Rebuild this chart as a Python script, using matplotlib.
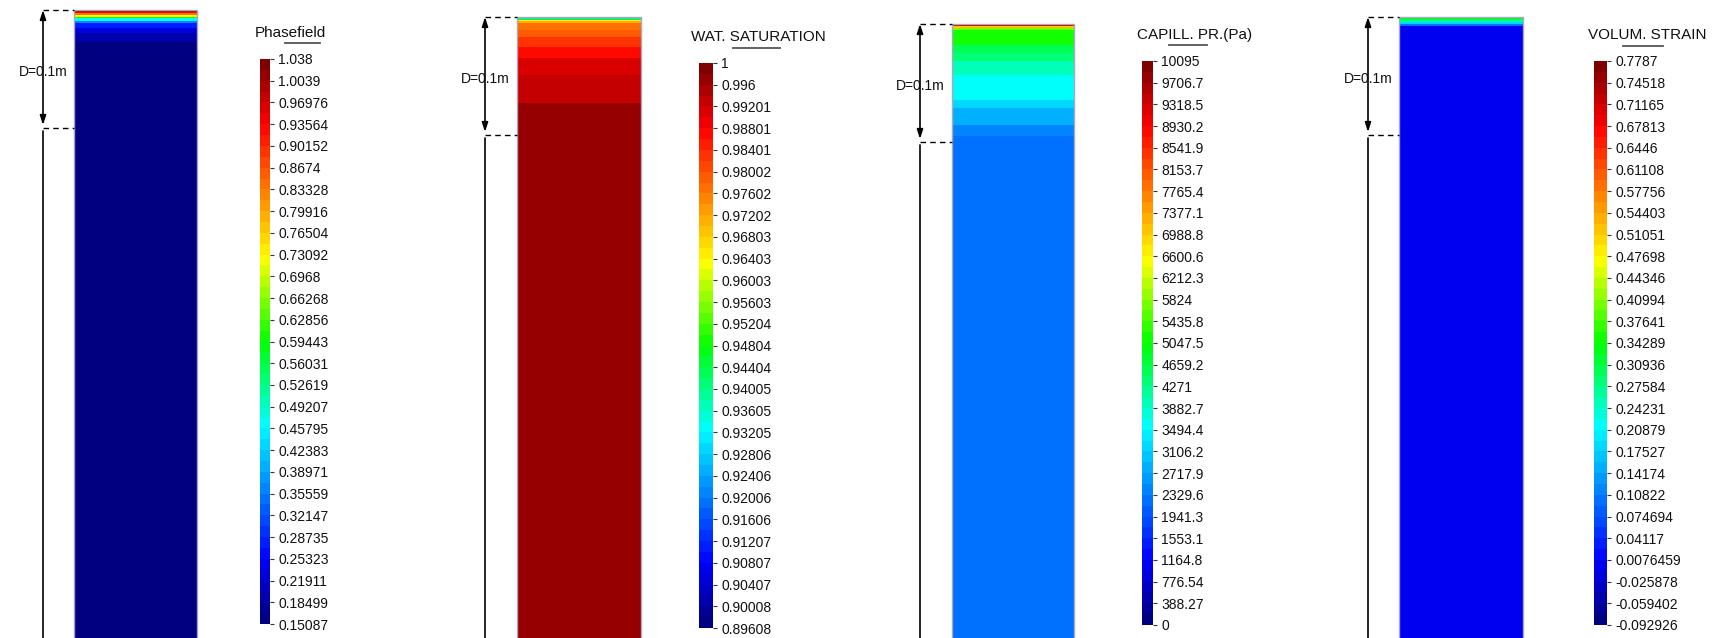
import numpy as np
import matplotlib
matplotlib.use("Agg")
import matplotlib.pyplot as plt
from matplotlib.colors import LinearSegmentedColormap, BoundaryNorm
from matplotlib.lines import Line2D
from matplotlib.patches import Rectangle
from matplotlib.ticker import NullLocator, FixedLocator, FixedFormatter

plt.rcParams['font.family'] = ['Liberation Sans', 'DejaVu Sans']

# ---------------- data ----------------
D_LABEL = "D=0.1m"
D_VALUE = 0.1  # m

titles = ["Phasefield", "WAT. SATURATION", "CAPILL. PR.(Pa)", "VOLUM. STRAIN"]

phase_labels = ["1.038", "1.0039", "0.96976", "0.93564", "0.90152", "0.8674", "0.83328",
                "0.79916", "0.76504", "0.73092", "0.6968", "0.66268", "0.62856", "0.59443",
                "0.56031", "0.52619", "0.49207", "0.45795", "0.42383", "0.38971", "0.35559",
                "0.32147", "0.28735", "0.25323", "0.21911", "0.18499", "0.15087"]
sat_labels = ["1", "0.996", "0.99201", "0.98801", "0.98401", "0.98002", "0.97602", "0.97202",
              "0.96803", "0.96403", "0.96003", "0.95603", "0.95204", "0.94804", "0.94404",
              "0.94005", "0.93605", "0.93205", "0.92806", "0.92406", "0.92006", "0.91606",
              "0.91207", "0.90807", "0.90407", "0.90008", "0.89608"]
cap_labels = ["10095", "9706.7", "9318.5", "8930.2", "8541.9", "8153.7", "7765.4", "7377.1",
              "6988.8", "6600.6", "6212.3", "5824", "5435.8", "5047.5", "4659.2", "4271",
              "3882.7", "3494.4", "3106.2", "2717.9", "2329.6", "1941.3", "1553.1", "1164.8",
              "776.54", "388.27", "0"]
vol_labels = ["0.7787", "0.74518", "0.71165", "0.67813", "0.6446", "0.61108", "0.57756",
              "0.54403", "0.51051", "0.47698", "0.44346", "0.40994", "0.37641", "0.34289",
              "0.30936", "0.27584", "0.24231", "0.20879", "0.17527", "0.14174", "0.10822",
              "0.074694", "0.04117", "0.0076459", "-0.025878", "-0.059402", "-0.092926"]

# vertical profiles: band edges (depth from top, m) and band values
phase_depth = [0, 0.0017, 0.0028, 0.0042, 0.0057, 0.0070, 0.0091, 0.0113, 0.0155, 0.0197, 0.0269, 0.60]
phase_value = [1.0, 0.93, 0.85, 0.73, 0.60, 0.47, 0.37, 0.28, 0.22, 0.19, 0.155]

sat_depth = [0, 0.0011, 0.0019, 0.0028, 0.0038, 0.0051, 0.0110, 0.0169, 0.0254, 0.0347, 0.0492, 0.0729, 0.60]
sat_value = [0.905, 0.93, 0.95, 0.965, 0.972, 0.977, 0.980, 0.984, 0.9875, 0.9905, 0.993, 0.998]

cap_depth = [0, 0.0014, 0.0034, 0.0048, 0.0175, 0.0246, 0.0314, 0.0430, 0.0642, 0.0712, 0.0853, 0.0952, 0.60]
cap_value = [9500, 7000, 5800, 5050, 4600, 4300, 3950, 3550, 3150, 2750, 2450, 2150]

vol_depth = [0, 0.0028, 0.0042, 0.0062, 0.0079, 0.60]
vol_value = [0.32, 0.26, 0.18, 0.10, 0.0]

# ---------------- style / layout ----------------
W, H = 1714, 638
MPP = 0.1 / 118.0  # metres per pixel
N_BANDS = 52

cmap = LinearSegmentedColormap.from_list(
    "gid", [(0.0, "#000080"), (0.11, "#0000ff"), (0.35, "#00ffff"), (0.5, "#00ff00"),
            (0.65, "#ffff00"), (0.89, "#ff0000"), (1.0, "#800000")])

panels = [
    dict(col=(74, 197, 10), dim_x=43, cbar=(260, 59, 270, 624), title=(255, 33), uline=(285, 320, 43),
         labels=phase_labels, depth=phase_depth, value=phase_value, title_txt=titles[0]),
    dict(col=(517, 641, 17), dim_x=485, cbar=(699, 63, 713, 628), title=(691, 37), uline=(733, 780, 48),
         labels=sat_labels, depth=sat_depth, value=sat_value, title_txt=titles[1]),
    dict(col=(952, 1074, 24), dim_x=920, cbar=(1142, 61, 1153, 625), title=(1137, 35), uline=(1169, 1207, 45),
         labels=cap_labels, depth=cap_depth, value=cap_value, title_txt=titles[2]),
    dict(col=(1399, 1523, 17), dim_x=1368, cbar=(1594, 61, 1607, 625), title=(1588, 35), uline=(1623, 1663, 46),
         labels=vol_labels, depth=vol_depth, value=vol_value, title_txt=titles[3]),
]

fig = plt.figure(figsize=(W / 100, H / 100), dpi=100)
fig.patch.set_facecolor("white")

for p in panels:
    cl, cr, ct = p["col"]
    dx = p["dim_x"]
    left_px, right_px = dx - 45, cr + 3
    ax = fig.add_axes([left_px / W, 0, (right_px - left_px) / W, (H - ct + 8) / H])
    ax.set_xlim((left_px - cl) * MPP, (right_px - cl) * MPP)
    ax.set_ylim((H - ct) * MPP, -8 * MPP)
    ax.axis("off")

    vals = [float(s) for s in p["labels"]]
    vmin, vmax = min(vals), max(vals)
    levels = np.linspace(vmin, vmax, N_BANDS + 1)
    norm = BoundaryNorm(levels, cmap.N, clip=True)

    col_w = (cr - cl) * MPP
    depth = np.array(p["depth"])
    value = np.array(p["value"])[:, None]
    ax.pcolormesh([0, col_w], depth, value, cmap=cmap, norm=norm, shading="flat")
    ax.add_patch(Rectangle((0, 0), col_w, depth[-1], fill=False, ec="#a8a8c0", lw=1.0))

    xd = (dx - cl) * MPP
    # dashed extension lines
    for yy in (0, D_VALUE):
        ax.plot([xd, 0], [yy, yy], color="black", lw=1.0, ls=(0, (4, 3)), clip_on=False)
    # dimension arrow
    arr = dict(arrowstyle="<|-|>,head_length=0.55,head_width=0.18", color="black", lw=1.2,
               shrinkA=0, shrinkB=0)
    ax.annotate("", xy=(xd, 0), xytext=(xd, D_VALUE - 3 * MPP), arrowprops=arr)
    arr2 = dict(arrowstyle="<|-,head_length=0.55,head_width=0.18", color="black", lw=1.2,
                shrinkA=0, shrinkB=0)
    ax.annotate("", xy=(xd, D_VALUE + 3 * MPP), xytext=(xd, depth[-1]), arrowprops=arr2)
    ax.annotate(D_LABEL, xy=(xd, D_VALUE / 2), xytext=(0, -3), textcoords="offset pixels",
                ha="center", va="center", fontsize=10, color="#111111")

    # colour legend (banded)
    x0, y0, x1, y1 = p["cbar"]
    cax = fig.add_axes([x0 / W, 1 - y1 / H, (x1 - x0) / W, (y1 - y0) / H])
    mids = 0.5 * (levels[:-1] + levels[1:])
    cax.pcolormesh([0, 1], levels, mids[:, None], cmap=cmap, norm=norm, shading="flat")
    cax.set_xlim(0, 1)
    cax.set_ylim(vmin, vmax)
    for s in cax.spines.values():
        s.set_visible(False)
    cax.xaxis.set_major_locator(NullLocator())
    cax.yaxis.tick_right()
    cax.yaxis.set_major_locator(FixedLocator(vals))
    cax.yaxis.set_major_formatter(FixedFormatter(p["labels"]))
    cax.yaxis.set_minor_locator(NullLocator())
    cax.tick_params(axis="y", which="major", length=3, width=0.8, pad=3, labelsize=10,
                    color="#333333", labelcolor="#111111", left=False, right=True)

    tx, ty = p["title"]
    fig.text(tx / W, 1 - ty / H, p["title_txt"], ha="left", va="center", fontsize=11, color="#111111")
    ux0, ux1, uy = p["uline"]
    fig.add_artist(Line2D([ux0 / W, ux1 / W], [1 - uy / H, 1 - uy / H], color="#555555", lw=1.3))

fig.savefig("out.png", dpi=100, facecolor="white")
